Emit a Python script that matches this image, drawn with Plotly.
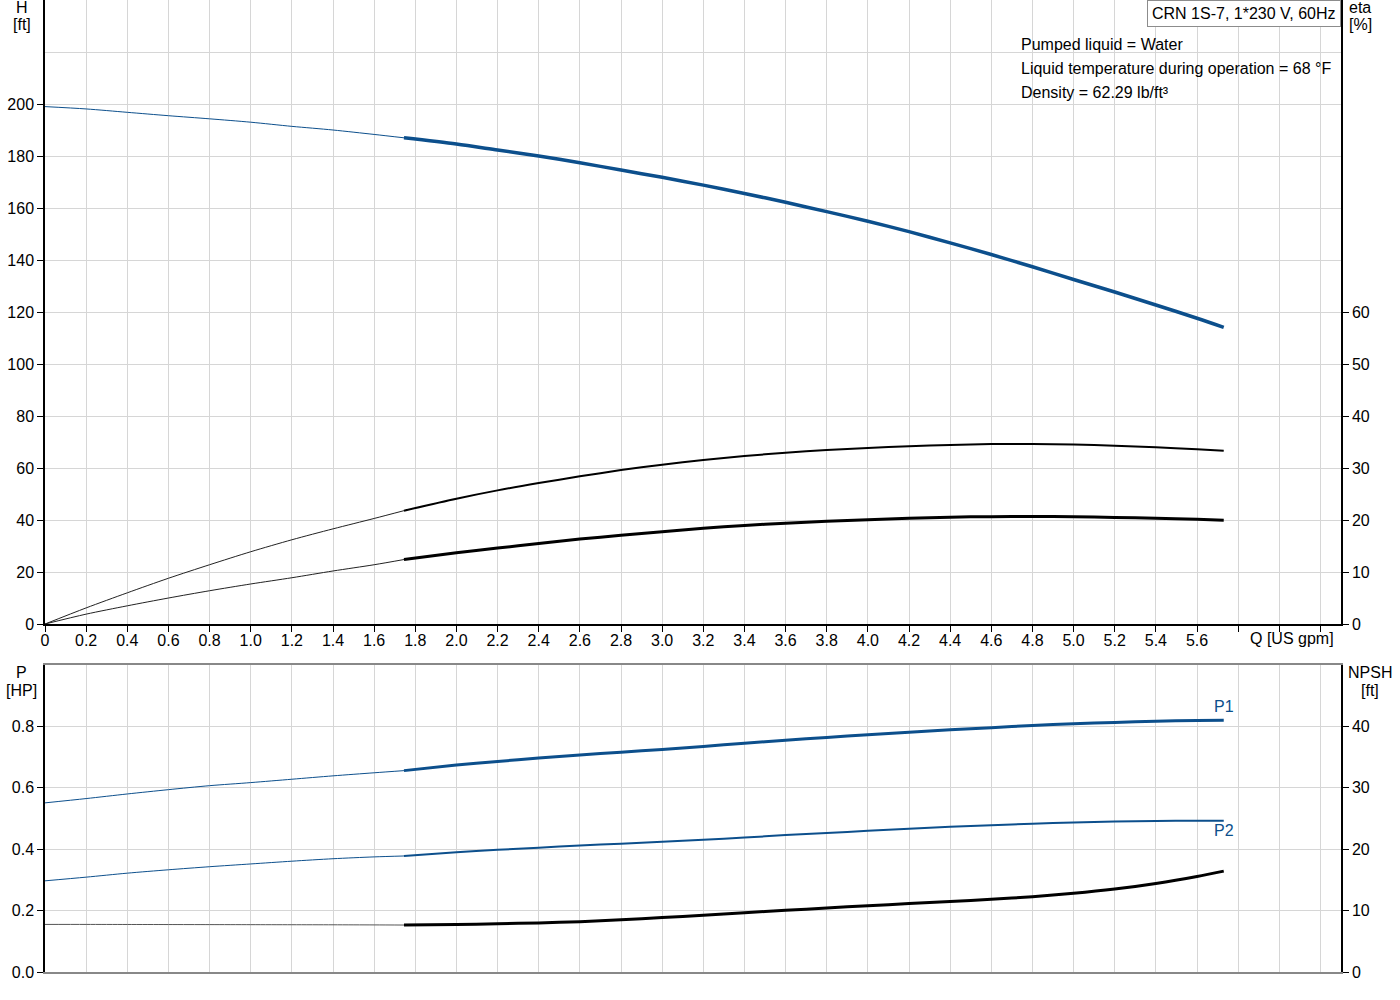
import plotly.graph_objects as go

# Flow [US gpm]: thin part (outside operating range) and thick part
q_thin = [0, 0.2, 0.4, 0.6, 0.8, 1.0, 1.2, 1.4, 1.6, 1.745]
q_main = [1.745, 2.0, 2.2, 2.4, 2.6, 2.8, 3.0, 3.2, 3.4, 3.6, 3.8,
          4.0, 4.2, 4.4, 4.6, 4.8, 5.0, 5.2, 5.4, 5.6, 5.73]

# Head H [ft]
head_thin = [199.0, 198.1, 196.8, 195.5, 194.3, 193.0, 191.4, 190.0, 188.3, 187.0]
head_main = [187.0, 184.6, 182.3, 180.0, 177.4, 174.6, 171.8, 168.8, 165.6,
             162.2, 158.6, 154.9, 150.9, 146.6, 142.1, 137.4, 132.5, 127.7, 122.7,
             117.6, 114.1]

# Efficiency eta [%] (pump, and pump + motor)
eta_thin = [0, 3.1, 6.0, 8.8, 11.4, 13.9, 16.2, 18.3, 20.3, 21.8]
eta_main = [21.8, 24.1, 25.7, 27.1, 28.4, 29.6, 30.65, 31.55, 32.3, 32.95,
            33.45, 33.85, 34.2, 34.45, 34.6, 34.6, 34.5, 34.3, 34.0, 33.6, 33.3]
eta_tot_thin = [0, 1.9, 3.5, 5.0, 6.4, 7.7, 8.9, 10.2, 11.4, 12.4]
eta_tot_main = [12.4, 13.7, 14.6, 15.5, 16.35, 17.05, 17.75, 18.4, 18.95,
                19.4, 19.75, 20.05, 20.35, 20.55, 20.65, 20.7, 20.65, 20.5, 20.35,
                20.15, 19.95]

# Power [HP]
p1_thin = [0.551, 0.565, 0.580, 0.594, 0.607, 0.617, 0.628, 0.639, 0.649, 0.656]
p1_main = [0.656, 0.674, 0.686, 0.697, 0.707, 0.716, 0.725, 0.735, 0.745,
           0.755, 0.764, 0.773, 0.781, 0.789, 0.796, 0.803, 0.809, 0.813, 0.817,
           0.8195, 0.8205]
p2_thin = [0.297, 0.309, 0.322, 0.333, 0.343, 0.352, 0.361, 0.369, 0.375, 0.378]
p2_main = [0.378, 0.390, 0.398, 0.405, 0.412, 0.418, 0.424, 0.431, 0.438,
           0.446, 0.453, 0.460, 0.467, 0.473, 0.478, 0.483, 0.487, 0.490, 0.492,
           0.493, 0.493]

# NPSH [ft]
npsh_thin = [7.75, 7.75, 7.74, 7.73, 7.72, 7.71, 7.70, 7.69, 7.67, 7.65]
npsh_main = [7.65, 7.73, 7.85, 8.00, 8.20, 8.50, 8.86, 9.25, 9.66, 10.05,
             10.43, 10.80, 11.14, 11.47, 11.84, 12.27, 12.81, 13.51, 14.43,
             15.57, 16.43]

# Axis ticks
q_ticks = [0, 0.2, 0.4, 0.6, 0.8, 1.0, 1.2, 1.4, 1.6, 1.8, 2.0, 2.2, 2.4, 2.6,
           2.8, 3.0, 3.2, 3.4, 3.6, 3.8, 4.0, 4.2, 4.4, 4.6, 4.8, 5.0, 5.2,
           5.4, 5.6, 5.8, 6.0, 6.2]
q_labels = ["0", "0.2", "0.4", "0.6", "0.8", "1.0", "1.2", "1.4", "1.6", "1.8",
            "2.0", "2.2", "2.4", "2.6", "2.8", "3.0", "3.2", "3.4", "3.6", "3.8",
            "4.0", "4.2", "4.4", "4.6", "4.8", "5.0", "5.2", "5.4", "5.6",
            "", "", ""]
h_ticks = [0, 20, 40, 60, 80, 100, 120, 140, 160, 180, 200]
eta_ticks = [0, 10, 20, 30, 40, 50, 60]
p_ticks = [0.0, 0.2, 0.4, 0.6, 0.8]
p_labels = ["0.0", "0.2", "0.4", "0.6", "0.8"]
npsh_ticks = [0, 10, 20, 30, 40]

BLUE = "#0c4f8c"
GRID = "#d6d6d6"
FONT = "Liberation Sans, Arial, sans-serif"

fig = go.Figure()


def add_curve(x, y, color, width, xa, ya):
    fig.add_trace(go.Scatter(
        x=x, y=y, mode="lines", xaxis=xa, yaxis=ya,
        line=dict(color=color, width=width, shape="spline", smoothing=0.8),
        showlegend=False, hoverinfo="skip",
    ))


# top panel
add_curve(q_thin, head_thin, BLUE, 1, "x", "y")
add_curve(q_main, head_main, BLUE, 3.5, "x", "y")
add_curve(q_thin, eta_thin, "#222222", 1, "x", "y2")
add_curve(q_main, eta_main, "black", 2, "x", "y2")
add_curve(q_thin, eta_tot_thin, "#222222", 1, "x", "y2")
add_curve(q_main, eta_tot_main, "black", 3, "x", "y2")

# bottom panel
add_curve(q_thin, p1_thin, BLUE, 1, "x2", "y3")
add_curve(q_main, p1_main, BLUE, 3, "x2", "y3")
add_curve(q_thin, p2_thin, BLUE, 1, "x2", "y3")
add_curve(q_main, p2_main, BLUE, 2, "x2", "y3")
add_curve(q_thin, npsh_thin, "#555555", 1, "x2", "y4")
add_curve(q_main, npsh_main, "black", 3, "x2", "y4")

top_dom = [0.358, 1.0]
bot_dom = [0.0, 0.3158]

fig.update_layout(
    width=1400, height=1000,
    margin=dict(l=45, r=59, t=0, b=28),
    paper_bgcolor="white", plot_bgcolor="white",
    font=dict(family=FONT, size=16, color="black"),
    xaxis=dict(
        domain=[0, 1], anchor="y", range=[0, 6.3],
        tickmode="array", tickvals=q_ticks, ticktext=q_labels,
        ticks="outside", ticklen=6, tickcolor="black", ticklabelstandoff=-5,
        showgrid=True, gridcolor=GRID, gridwidth=1, zeroline=False,
        showline=True, linecolor="black", linewidth=1.5,
    ),
    yaxis=dict(
        domain=top_dom, anchor="x", range=[0, 240],
        tickmode="array", tickvals=h_ticks,
        ticks="outside", ticklen=6, tickcolor="black",
        showgrid=True, gridcolor=GRID, gridwidth=1, zeroline=False,
        showline=True, linecolor="black", linewidth=1.5,
        minor=dict(tickmode="array", tickvals=[220], showgrid=True,
                   gridcolor=GRID, ticks=""),
    ),
    yaxis2=dict(
        overlaying="y", side="right", anchor="x", range=[0, 120],
        tickmode="array", tickvals=eta_ticks,
        ticks="outside", ticklen=6, tickcolor="black",
        showgrid=False, zeroline=False,
        showline=True, linecolor="black", linewidth=1.5,
    ),
    xaxis2=dict(
        domain=[0, 1], anchor="y3", range=[0, 6.3],
        tickmode="array", tickvals=q_ticks, showticklabels=False,
        showgrid=True, gridcolor=GRID, gridwidth=1, zeroline=False,
        showline=True, linecolor="#888888", linewidth=1.5, mirror=True,
    ),
    yaxis3=dict(
        domain=bot_dom, anchor="x2", range=[0, 1.0],
        tickmode="array", tickvals=p_ticks, ticktext=p_labels,
        ticks="outside", ticklen=6, tickcolor="black",
        showgrid=True, gridcolor=GRID, gridwidth=1, zeroline=False,
        showline=True, linecolor="black", linewidth=1.5,
    ),
    yaxis4=dict(
        overlaying="y3", side="right", anchor="x2", range=[0, 50],
        tickmode="array", tickvals=npsh_ticks,
        ticks="outside", ticklen=6, tickcolor="black",
        showgrid=False, zeroline=False,
        showline=True, linecolor="black", linewidth=1.5,
    ),
)

# white panel behind the liquid info text
fig.add_shape(type="rect", xref="paper", yref="paper",
              x0=0.75, x1=1.0, y0=0.893, y1=1.0,
              fillcolor="white", line=dict(width=0), layer="between")

ann = [
    dict(text="H", x=-0.0178, y=0.9918, xanchor="center", yanchor="middle"),
    dict(text="[ft]", x=-0.0178, y=0.9743, xanchor="center", yanchor="middle"),
    dict(text="eta", x=1.0147, y=0.9918, xanchor="center", yanchor="middle"),
    dict(text="[%]", x=1.0147, y=0.9743, xanchor="center", yanchor="middle"),
    dict(text="P", x=-0.0178, y=0.3086, xanchor="center", yanchor="middle"),
    dict(text="[HP]", x=-0.0178, y=0.2901, xanchor="center", yanchor="middle"),
    dict(text="NPSH", x=1.0224, y=0.3086, xanchor="center", yanchor="middle"),
    dict(text="[ft]", x=1.0224, y=0.2901, xanchor="center", yanchor="middle"),
    dict(text="Q [US gpm]", x=0.962, y=0.3426, xanchor="center", yanchor="middle"),
    dict(text="Pumped liquid = Water", x=0.7515, y=0.9547,
         xanchor="left", yanchor="middle"),
    dict(text="Liquid temperature during operation = 68 °F", x=0.7515, y=0.93,
         xanchor="left", yanchor="middle"),
    dict(text="Density = 62.29 lb/ft³", x=0.7515, y=0.9053,
         xanchor="left", yanchor="middle"),
    dict(text="CRN 1S-7, 1*230 V, 60Hz", x=1.0, y=1.0, xanchor="right",
         yanchor="top", bgcolor="white", bordercolor="#8c8c8c",
         borderwidth=1, borderpad=4),
]
for a in ann:
    fig.add_annotation(xref="paper", yref="paper", showarrow=False,
                       font=dict(family=FONT, size=16, color="black"), **a)

fig.add_annotation(text="P1", x=q_main[-1], y=p1_main[-1], xref="x2", yref="y3",
                   showarrow=False, yshift=14, xanchor="center", yanchor="middle",
                   font=dict(family=FONT, size=16, color=BLUE))
fig.add_annotation(text="P2", x=q_main[-1], y=p2_main[-1], xref="x2", yref="y3",
                   showarrow=False, yshift=-10, xanchor="center", yanchor="middle",
                   font=dict(family=FONT, size=16, color=BLUE))

fig.write_html("out.html", config={"displayModeBar": False},
               post_script="document.body.style.margin='0';")
